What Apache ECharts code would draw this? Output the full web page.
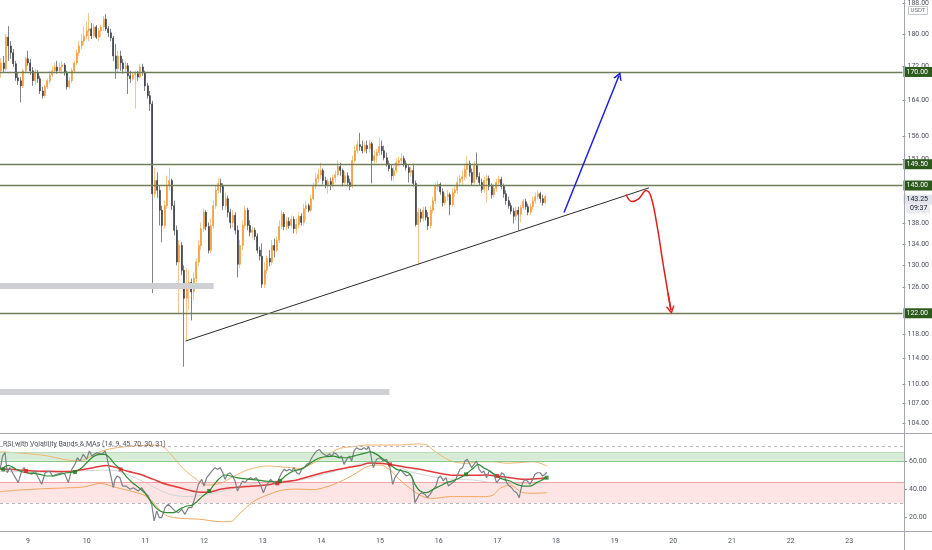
<!DOCTYPE html>
<html><head><meta charset="utf-8">
<script src="https://cdn.jsdelivr.net/npm/echarts@6/dist/echarts.min.js"></script>
<style>html,body{margin:0;padding:0;background:#fff}#c{width:932px;height:550px}</style>
</head><body><div id="c"></div>
<script>
// ---------- data ----------
const days = [9,10,11,12,13,14,15,16,17,18,19,20,21,22,23];
const firstHour = -11;            // hours relative to day 9 00:00
const timeRange = [-11.46, 358.4];
const priceRange = [102.65, 188.65];
const rsiRange = [10.4, 79.0];

const opens = [171.0,172.9,171.5,179.3,177.1,175.4,172.7,169.3,168.6,167.4,171.0,
173.9,172.9,171.0,168.6,170.5,169.1,166.2,165.1,167.2,168.6,
170.0,171.0,171.9,171.0,171.9,172.4,170.5,167.2,168.6,171.0,
172.9,175.4,177.1,178.3,179.6,180.9,181.4,179.6,181.9,179.3,
180.9,181.9,183.9,181.4,180.4,179.1,174.6,171.5,174.6,172.9,
171.5,172.2,169.8,169.1,170.0,170.3,169.5,171.9,170.5,167.4,
165.1,163.2,143.8,146.5,144.5,140.5,137.5,141.4,145.5,146.5,
141.4,136.6,130.6,133.7,129.1,124.1,125.9,126.9,125.2,127.6,
130.6,133.7,136.9,140.1,137.3,132.8,137.5,141.4,144.5,145.9,
145.3,141.4,142.8,140.1,138.1,139.5,136.6,130.2,133.7,137.5,
140.5,137.5,136.2,136.6,135.4,132.8,131.7,126.6,129.1,131.3,
130.6,133.7,132.8,134.7,137.3,139.7,137.3,138.3,137.5,138.7,
136.9,137.7,139.3,138.1,140.8,141.4,140.5,142.8,145.3,146.9,
147.7,148.6,146.5,145.5,146.3,145.7,147.1,147.7,149.4,148.6,
146.1,147.5,146.1,145.3,150.7,152.8,154.1,153.7,152.8,153.9,
153.2,154.3,150.7,151.7,152.4,153.7,152.8,151.3,150.0,149.0,
147.5,148.6,150.2,150.7,151.1,150.0,149.2,148.2,148.6,145.9,
137.7,140.1,138.9,140.5,139.1,137.5,140.5,142.4,145.3,145.7,
144.2,142.0,143.2,143.6,141.6,144.0,144.5,146.1,146.9,147.3,
148.8,150.0,148.2,146.1,149.6,147.3,146.1,144.7,146.5,146.9,
145.3,143.6,144.9,146.1,146.7,145.3,143.8,142.4,141.4,140.3,
139.3,140.5,139.7,141.0,142.2,141.2,140.1,141.2,142.4,143.2,
143.8,142.8,142.0];
const closes = [172.9,171.5,179.3,177.1,175.4,172.7,169.3,168.6,167.4,171.0,173.9,
172.9,171.0,168.6,170.5,169.1,166.2,165.1,167.2,168.6,170.0,
171.0,171.9,171.0,171.9,172.4,170.5,167.2,168.6,171.0,172.9,
175.4,177.1,178.3,179.6,180.9,181.4,179.6,181.9,179.3,180.9,
181.9,183.9,181.4,180.4,179.1,174.6,171.5,174.6,172.9,171.5,
172.2,169.8,169.1,170.0,170.3,169.5,171.9,170.5,167.4,165.1,
163.2,143.8,146.5,144.5,140.5,137.5,141.4,145.5,146.5,141.4,
136.6,130.6,133.7,129.1,124.1,125.9,126.9,125.2,127.6,130.6,
133.7,136.9,140.1,137.3,132.8,137.5,141.4,144.5,145.9,145.3,
141.4,142.8,140.1,138.1,139.5,136.6,130.2,133.7,137.5,140.5,
137.5,136.2,136.6,135.4,132.8,131.7,126.6,129.1,131.3,130.6,
133.7,132.8,134.7,137.3,139.7,137.3,138.3,137.5,138.7,136.9,
137.7,139.3,138.1,140.8,141.4,140.5,142.8,145.3,146.9,147.7,
148.6,146.5,145.5,146.3,145.7,147.1,147.7,149.4,148.6,146.1,
147.5,146.1,145.3,150.7,152.8,154.1,153.7,152.8,153.9,153.2,
154.3,150.7,151.7,152.4,153.7,152.8,151.3,150.0,149.0,147.5,
148.6,150.2,150.7,151.1,150.0,149.2,148.2,148.6,145.9,137.7,
140.1,138.9,140.5,139.1,137.5,140.5,142.4,145.3,145.7,144.2,
142.0,143.2,143.6,141.6,144.0,144.5,146.1,146.9,147.3,148.8,
150.0,148.2,146.1,149.6,147.3,146.1,144.7,146.5,146.9,145.3,
143.6,144.9,146.1,146.7,145.3,143.8,142.4,141.4,140.3,139.3,
140.5,139.7,141.0,142.2,141.2,140.1,141.2,142.4,143.2,143.8,
142.8,142.0,143.25];
const highs = [174.1,174.6,180.1,182.1,178.3,176.3,173.4,170.5,169.5,171.5,174.4,
175.9,173.9,171.9,171.5,171.2,169.8,167.2,167.6,169.1,171.0,
172.2,172.9,173.4,172.9,173.4,172.9,171.0,169.5,171.7,173.4,
176.3,178.3,180.1,182.1,183.4,185.5,182.9,182.7,182.4,181.6,
182.4,184.7,185.2,182.1,181.4,179.6,177.6,175.9,175.9,173.9,
173.4,172.9,171.0,170.7,171.0,171.0,172.7,172.7,171.0,168.1,
166.2,163.9,149.2,148.2,145.5,141.4,142.4,147.5,149.2,146.9,
142.4,137.5,134.7,134.3,130.0,129.5,129.1,127.6,128.7,131.3,
134.7,138.1,140.8,140.5,138.1,138.9,142.4,145.5,146.9,146.9,
145.9,144.0,143.4,140.8,140.5,140.1,137.5,134.7,138.5,141.4,
141.0,138.5,137.3,137.1,136.0,133.5,134.1,130.6,131.8,132.8,
134.7,135.0,135.4,138.5,140.5,140.1,139.1,139.1,139.5,139.3,
138.9,140.1,139.9,141.8,142.4,141.8,143.6,146.1,148.2,149.0,
150.2,149.0,147.3,146.9,147.1,147.7,148.6,150.7,150.2,149.0,
148.4,148.2,146.9,151.7,153.9,155.0,156.7,155.0,154.7,155.0,
155.2,154.7,152.8,153.2,155.6,155.0,153.9,152.4,150.7,149.8,
149.4,151.1,151.5,152.2,151.7,150.7,149.8,149.4,150.0,146.5,
141.0,140.8,141.2,141.2,140.1,141.4,143.2,146.1,146.5,146.1,
144.9,144.0,144.5,144.0,144.9,145.3,147.3,147.7,148.6,150.0,
151.7,150.7,149.0,150.5,152.4,148.2,146.9,147.3,147.7,147.5,
145.9,145.7,146.9,147.5,147.3,145.9,144.5,143.2,142.0,141.0,
141.2,141.2,141.6,142.8,142.8,141.8,141.8,143.2,144.0,144.5,
144.2,143.6,143.6];
const lows = [169.3,170.5,171.0,173.4,173.9,171.9,168.6,167.6,163.5,166.9,170.3,
172.2,170.0,167.4,167.6,168.1,165.5,164.4,164.6,166.7,167.9,
169.5,170.5,170.3,170.5,170.3,169.8,166.5,166.7,168.1,170.5,
172.4,174.6,176.3,177.3,178.8,178.3,178.8,179.1,178.8,178.3,
179.3,180.9,180.9,179.3,178.3,173.4,169.1,170.5,171.0,170.3,
170.5,165.5,168.1,168.6,162.1,168.6,169.1,169.8,166.2,164.4,
161.6,125.0,143.0,143.0,137.5,134.3,136.9,140.8,144.5,140.5,
135.6,130.0,121.5,128.2,112.7,117.0,122.0,120.3,123.8,126.9,
129.8,132.8,136.2,136.6,132.2,132.2,136.9,140.8,143.8,144.0,
140.5,140.5,139.1,136.9,137.1,135.8,127.8,129.5,132.8,136.9,
136.6,135.4,135.0,134.7,132.2,130.9,125.9,125.9,128.4,129.8,
130.0,131.5,132.4,134.1,136.8,136.6,136.6,136.9,136.9,136.0,
135.8,136.9,137.5,137.5,138.5,140.1,140.1,142.4,144.7,146.1,
146.9,145.7,144.9,143.8,144.5,145.1,146.1,147.3,147.5,145.3,
145.7,145.3,144.5,144.9,150.2,152.2,152.8,152.2,152.4,152.2,
152.4,145.9,149.8,150.2,151.7,151.9,150.7,149.4,148.4,146.5,
146.5,148.0,149.4,149.8,149.4,148.6,146.1,147.3,145.3,137.3,
130.0,138.1,138.3,138.5,136.6,136.9,139.9,141.8,144.5,143.6,
141.2,141.4,142.4,139.5,141.2,143.2,143.8,145.5,145.5,146.5,
146.9,147.3,145.5,145.7,146.7,145.5,144.0,144.0,142.0,144.5,
142.8,143.0,144.2,145.3,144.7,143.0,141.6,140.8,139.7,137.9,
138.5,136.6,138.1,140.5,140.6,139.5,139.5,140.6,141.8,142.6,
142.0,141.4,141.6];

const priceTicks = [188,180,172,164,156,151,138,134,130,126,118,114,110,107,104];
const levels = [170, 149.5, 145, 122];
const lastPrice = 143.25;
const countdown = '09:37';
const quoteCurrency = 'USDT';

// drawings: [hour, price]
const trendLine = [[64.6,116.85],[254.5,145.0]];
const upArrow = [[219.7,140.05],[242.2,169.8]];
const downPath = [[245.1,143.64],[247.5,142.23],[250.4,142.83],[253.3,144.45],[255.3,143.24],[257.8,137.52],[260.2,130.55],[262.3,124.99],[263.5,122.04]];
const grayZones = [{price:126.3, from:-11.46, to:76.1},{price:108.8, from:-11.46, to:148.1}];

// RSI pane: [hour, value]
const rsiTitle = 'RSI with Volatility Bands & MAs (14, 9, 45, 70, 30, 31)';
const rsiTicks = [20,40,60];
const rsiLevels = {overbought:70, oversold:30, upperZone:[60,66], lowerZone:[30,45]};
const rsiLine = [[-11.4,54.0],[-10.4,63.4],[-9.4,65.8],[-8.5,51.6],[-7.4,55.2],[-6.0,50.5],[-4.0,44.6],[-2.6,52.8],[-1.6,55.2],[-0.5,51.6],[1.5,50.5],[2.9,52.8],[4.2,48.1],[5.6,43.4],[7.0,51.6],[8.7,52.8],[10.1,49.3],[11.7,50.5],[13.8,51.6],[15.1,50.5],[16.5,44.6],[17.9,54.0],[19.2,57.5],[20.2,62.2],[21.3,59.9],[22.6,64.6],[24.0,61.1],[25.1,67.0],[26.1,63.4],[28.1,65.8],[30.2,64.6],[31.5,67.0],[32.2,63.4],[33.6,51.6],[34.9,41.0],[35.6,46.9],[36.5,49.3],[37.6,48.1],[38.7,42.2],[40.1,42.2],[41.7,39.9],[43.1,41.0],[45.1,38.7],[46.5,41.0],[47.9,37.5],[49.2,35.2],[50.6,29.3],[51.6,17.5],[52.7,24.6],[53.7,19.9],[54.7,19.9],[56.1,26.9],[57.4,29.3],[58.8,26.9],[60.1,24.6],[61.5,23.4],[62.9,25.7],[64.2,22.2],[65.6,26.9],[67.0,26.9],[68.3,34.0],[69.7,43.4],[71.1,46.9],[72.0,42.2],[73.1,48.1],[74.2,50.5],[75.2,52.8],[76.5,55.2],[77.5,54.0],[78.6,55.2],[79.7,51.6],[80.6,46.9],[81.6,50.5],[82.7,51.6],[83.7,49.3],[84.7,45.8],[85.7,38.7],[86.7,42.2],[87.8,45.8],[88.8,44.6],[89.9,46.9],[91.1,48.1],[92.2,46.9],[93.3,48.1],[94.3,45.8],[95.3,42.2],[96.3,37.5],[97.4,42.2],[98.3,44.6],[99.3,46.9],[100.4,44.6],[101.8,43.4],[102.8,48.1],[103.8,51.6],[104.8,54.0],[105.8,52.8],[106.9,54.0],[107.9,52.8],[108.8,55.2],[109.9,51.6],[111.0,50.5],[112.0,54.0],[113.1,55.2],[114.0,57.5],[115.1,58.7],[116.1,62.2],[117.0,64.6],[118.1,67.0],[119.2,68.1],[120.2,65.8],[121.1,64.6],[122.2,63.4],[123.3,64.6],[124.3,63.4],[125.2,65.8],[126.3,64.6],[127.4,62.2],[128.3,63.4],[129.3,57.5],[130.4,61.1],[131.5,63.4],[132.4,59.9],[133.4,67.0],[134.5,69.3],[135.6,68.1],[136.5,68.1],[137.5,69.3],[138.6,68.1],[139.4,70.0],[140.1,66.0],[140.9,58.0],[141.3,55.2],[142.6,61.1],[144.0,62.2],[145.4,59.9],[146.7,61.1],[148.1,55.2],[149.2,43.4],[150.1,48.1],[151.5,51.6],[152.4,54.0],[153.5,51.6],[154.9,49.3],[156.3,50.5],[157.4,46.9],[158.3,30.4],[159.0,31.6],[160.1,36.3],[161.0,37.5],[162.4,36.3],[163.4,34.0],[164.5,36.3],[165.8,39.9],[166.9,42.2],[167.9,48.1],[168.8,49.3],[169.9,45.8],[171.0,48.1],[172.0,42.2],[172.6,43.4],[173.7,44.6],[174.7,45.8],[175.6,49.3],[176.7,54.0],[177.8,55.2],[178.8,59.9],[179.7,61.1],[180.8,57.5],[181.5,55.2],[182.5,57.5],[183.5,59.9],[184.6,54.0],[185.6,51.6],[186.5,52.8],[187.6,48.1],[188.7,52.8],[189.7,51.6],[190.6,50.5],[191.7,44.6],[192.8,46.9],[193.8,51.6],[194.7,50.5],[195.8,44.6],[196.9,42.2],[197.9,41.0],[198.8,38.7],[199.9,37.5],[201.0,34.0],[201.5,38.7],[202.4,44.6],[203.3,46.9],[204.3,45.8],[205.4,43.4],[206.5,46.9],[207.4,50.5],[208.4,51.6],[209.5,51.6],[210.6,49.3],[211.5,50.5],[212.2,52.1]];
const rsiFastMA = [[-11.4,54.0],[-10.1,55.2],[-8.0,56.8],[-6.0,55.2],[-3.3,52.8],[-0.55,51.6],[2.2,51.2],[4.9,50.5],[7.6,49.3],[10.4,49.3],[13.1,50.5],[15.8,51.6],[19.2,52.4],[22.0,55.2],[24.0,58.7],[26.7,63.0],[29.5,64.6],[31.5,64.6],[32.9,63.0],[34.2,60.5],[35.6,57.5],[37.9,54.0],[40.4,48.5],[43.1,44.0],[45.8,40.5],[47.9,37.0],[49.9,32.0],[52.0,27.5],[54.0,24.6],[56.7,23.4],[59.5,23.4],[62.2,26.0],[64.9,28.1],[67.0,28.5],[69.0,31.0],[71.1,34.5],[74.1,38.7],[76.0,43.0],[78.0,47.0],[80.5,50.0],[82.7,49.3],[85.4,48.1],[88.1,47.4],[90.8,46.9],[93.6,46.5],[96.3,45.8],[99.0,45.5],[101.8,45.2],[103.1,46.0],[105.8,50.0],[108.6,52.8],[111.3,54.0],[114.0,56.4],[116.8,59.9],[119.5,62.2],[122.2,63.0],[124.9,63.4],[127.7,62.2],[130.4,62.2],[133.1,63.4],[135.9,64.6],[138.6,65.8],[139.9,66.3],[142.6,64.6],[145.4,61.1],[148.1,57.5],[150.8,54.0],[153.5,52.8],[155.6,51.6],[156.9,49.3],[158.3,43.4],[160.4,38.7],[163.1,37.5],[165.8,39.9],[168.5,42.2],[171.3,44.6],[174.0,46.0],[176.7,48.0],[179.2,50.5],[182.2,55.0],[184.2,57.5],[186.3,55.2],[189.0,52.8],[191.7,49.3],[194.5,46.9],[197.2,45.8],[199.9,43.4],[202.6,42.2],[205.4,42.2],[208.1,44.6],[210.8,46.9],[212.2,48.1]];
const rsiSlowMA = [[-11.4,54.0],[-7.4,54.0],[-1.9,53.3],[2.2,52.8],[9.0,52.6],[15.8,52.4],[21.3,53.6],[26.7,55.2],[32.2,56.8],[36.3,55.2],[40.4,52.8],[45.8,50.5],[51.3,46.9],[56.7,43.4],[62.2,41.0],[66.3,39.0],[70.4,37.8],[74.5,38.0],[78.6,39.9],[82.7,41.0],[89.5,41.8],[96.3,42.7],[103.1,44.6],[109.9,46.5],[116.8,49.8],[123.6,52.8],[130.4,55.2],[135.9,56.8],[139.9,58.5],[144.0,58.3],[148.1,57.5],[153.5,55.9],[160.4,54.0],[167.2,51.6],[174.0,49.8],[180.8,49.8],[187.6,50.0],[191.7,49.3],[197.2,48.1],[202.6,47.0],[208.1,47.4],[212.2,48.1]];
const bandUpper = [[-11.4,66.5],[6.1,64.0],[16.0,60.6],[21.3,60.1],[25.4,63.0],[29.5,66.5],[34.8,68.9],[43.0,70.5],[51.1,71.2],[55.2,70.0],[59.3,62.9],[63.4,54.7],[67.5,48.8],[73.2,42.9],[78.6,44.1],[83.9,48.8],[89.6,53.5],[97.8,56.4],[106.0,55.4],[111.3,54.7],[116.6,58.3],[122.3,64.1],[127.7,68.9],[133.0,70.0],[138.7,71.2],[146.9,71.2],[152.2,71.2],[159.2,71.9],[163.3,71.2],[165.7,67.7],[169.8,62.9],[173.9,59.4],[179.6,58.3],[184.9,59.4],[190.3,59.4],[196.0,58.3],[201.3,58.8],[206.6,59.4],[209.5,58.3],[212.4,56.4]];
const bandLower = [[-11.4,38.2],[-3.3,39.4],[9.0,40.5],[22.5,41.5],[29.5,44.1],[36.4,41.0],[43.0,38.2],[48.7,34.7],[54.0,25.3],[56.9,21.1],[62.2,19.4],[70.4,18.7],[78.6,17.0],[82.7,17.0],[86.7,22.9],[92.1,31.1],[97.8,35.8],[104.3,39.4],[111.3,40.0],[116.6,39.6],[122.3,41.7],[127.7,45.3],[133.0,50.0],[138.7,55.9],[144.0,57.1],[148.1,53.5],[152.2,46.5],[156.3,40.6],[161.6,34.7],[165.7,33.5],[172.7,34.7],[179.6,34.7],[186.2,34.7],[190.3,35.8],[193.1,40.6],[197.2,42.9],[202.5,37.5],[206.6,37.1],[212.4,37.5]];
const bandBasis = [[-11.4,52.5],[10.0,52.0],[22.0,53.0],[33.6,53.5],[45.8,46.5],[56.9,37.0],[65.1,34.7],[75.8,37.0],[86.7,41.8],[97.8,45.3],[111.3,46.5],[124.8,52.4],[138.7,58.2],[146.9,58.2],[156.3,52.4],[165.7,48.8],[173.9,46.9],[182.1,46.5],[193.1,44.1],[204.2,44.1],[212.4,44.6]];
const crossUp = [[-10.1,54.0],[19.2,52.1],[74.1,38.7],[103.1,45.8],[179.2,50.5],[212.2,48.1]];
const crossDown = [[-0.8,52.8],[37.9,54.0],[102.0,44.1],[148.1,57.5],[192.0,49.3]];

// ---------- chart ----------
const LN = Math.log;
const hours = opens.map((_, i) => firstHour + i);
const wickData = hours.map((t, i) => [t, LN(opens[i]), LN(closes[i]), LN(lows[i]), LN(highs[i])]);
const bodyData = hours.map((t, i) => [t, LN(opens[i]), LN(closes[i]),
  LN(Math.min(opens[i], closes[i])), LN(Math.max(opens[i], closes[i]))]);
const toLn = arr => arr.map(p => [p[0], LN(p[1])]);

const FONT = 'Roboto';
const axisTxt = '#50535e';
const chevron = 'path://M0,10L5,0L10,10L8.2,10L5,3.8L1.8,10Z';
const tagLabel = (bg, fg) => ({show: true, position: 'end', formatter: '{b}', distance: 1,
  backgroundColor: bg, color: fg, fontSize: 7, fontFamily: FONT, padding: [2, 4, 1, 3]});

const chart = echarts.init(document.getElementById('c'), null, {renderer: 'canvas'});
const option = {
  animation: false,
  textStyle: {fontFamily: FONT},
  grid: [
    {left: 0, right: 28, top: 0, height: 433},
    {left: 0, right: 28, top: 434, height: 97}
  ],
  xAxis: [
    {type: 'value', gridIndex: 0, min: timeRange[0], max: timeRange[1], show: false},
    {type: 'value', gridIndex: 1, min: timeRange[0], max: timeRange[1],
      axisLine: {show: false, onZero: false}, axisTick: {show: false}, splitLine: {show: false},
      axisLabel: {customValues: days.map(d => (d - days[0]) * 24),
        formatter: v => String(days[0] + Math.round(v / 24)),
        color: axisTxt, fontSize: 7, margin: 7, fontFamily: FONT}}
  ],
  yAxis: [
    {type: 'value', gridIndex: 0, position: 'right', min: LN(priceRange[0]), max: LN(priceRange[1]),
      axisLine: {show: false, onZero: false}, splitLine: {show: false},
      axisTick: {show: true, length: 3, customValues: priceTicks.map(LN), lineStyle: {color: '#8f929a'}},
      axisLabel: {customValues: priceTicks.map(LN), formatter: v => Math.exp(v).toFixed(2),
        color: axisTxt, fontSize: 7, margin: 5, fontFamily: FONT}},
    {type: 'value', gridIndex: 1, position: 'right', min: rsiRange[0], max: rsiRange[1],
      axisLine: {show: false, onZero: false}, splitLine: {show: false},
      axisTick: {show: true, length: 3, customValues: rsiTicks, lineStyle: {color: '#8f929a'}},
      axisLabel: {customValues: rsiTicks, formatter: v => v.toFixed(2),
        color: axisTxt, fontSize: 7, margin: 5, fontFamily: FONT}}
  ],
  series: [
    {type: 'candlestick', name: 'wicks', xAxisIndex: 0, yAxisIndex: 0, data: wickData,
      encode: {x: 0, y: [1, 2, 3, 4]}, barWidth: 0.8, z: 2, silent: true,
      itemStyle: {color: '#f6c58e', color0: '#80838b', borderColor: '#f6c58e', borderColor0: '#80838b', borderWidth: 1}},
    {type: 'candlestick', name: 'bodies', xAxisIndex: 0, yAxisIndex: 0, data: bodyData,
      encode: {x: 0, y: [1, 2, 3, 4]}, barWidth: 1.5, z: 3, silent: true,
      itemStyle: {color: '#f39a34', color0: '#3a3d47', borderColor: '#f39a34', borderColor0: '#3a3d47', borderWidth: 0.6}},
    {type: 'line', name: 'trend', xAxisIndex: 0, yAxisIndex: 0, data: toLn(trendLine),
      symbol: 'none', clip: false, silent: true, z: 6,
      lineStyle: {color: '#2a2a2a', width: 1},
      markLine: {silent: true, symbol: 'none', z: 10, animation: false,
        data: [
          ...levels.map(v => ({yAxis: LN(v), name: v.toFixed(2),
            lineStyle: {color: '#6f7e56', width: 1.3, type: 'solid'},
            label: tagLabel('#2b5a1c', '#ffffff')})),
          {yAxis: LN(lastPrice), name: lastPrice.toFixed(2),
            lineStyle: {color: 'rgba(255,255,255,0)', width: 0.1, type: 'solid'},
            label: tagLabel('#e1e3ea', '#131722')},
          ...grayZones.map(z => [
            {coord: [z.from, LN(z.price)], lineStyle: {color: '#cfd0d3', width: 6, type: 'solid'}, label: {show: false}},
            {coord: [z.to, LN(z.price)]}
          ]),
          [
            {coord: [upArrow[0][0], LN(upArrow[0][1])], symbol: 'none',
              lineStyle: {color: '#1f1fe0', width: 1.5, type: 'solid'}, label: {show: false}},
            {coord: [upArrow[1][0], LN(upArrow[1][1])], symbol: chevron, symbolSize: [9, 8]}
          ],
          [
            {coord: [downPath[downPath.length - 2][0], LN(downPath[downPath.length - 2][1])], symbol: 'none',
              lineStyle: {color: '#e01f1f', width: 1.5, type: 'solid'}, label: {show: false}},
            {coord: [downPath[downPath.length - 1][0], LN(downPath[downPath.length - 1][1])], symbol: chevron, symbolSize: [9, 8]}
          ]
        ]}},
    {type: 'line', name: 'down path', xAxisIndex: 0, yAxisIndex: 0, data: toLn(downPath),
      symbol: 'none', smooth: 0.4, clip: false, silent: true, z: 6,
      lineStyle: {color: '#e01f1f', width: 1.5}},

    // RSI pane
    {type: 'line', name: 'basis', xAxisIndex: 1, yAxisIndex: 1, data: bandBasis, symbol: 'none', smooth: 0.3,
      silent: true, z: 3, lineStyle: {color: '#d3d4d8', width: 1},
      markArea: {silent: true, data: [
        [{yAxis: rsiLevels.upperZone[0], itemStyle: {color: 'rgba(110,185,110,0.28)'}}, {yAxis: rsiLevels.upperZone[1]}],
        [{yAxis: rsiLevels.lowerZone[0], itemStyle: {color: 'rgba(242,70,70,0.14)'}}, {yAxis: rsiLevels.lowerZone[1]}]
      ]},
      markLine: {silent: true, symbol: 'none', label: {show: false}, data: [
        {yAxis: rsiLevels.overbought, lineStyle: {color: '#b5b8bf', width: 1, type: [3, 3]}},
        {yAxis: rsiLevels.oversold, lineStyle: {color: '#b5b8bf', width: 1, type: [3, 3]}},
        {yAxis: rsiLevels.upperZone[0], lineStyle: {color: '#86c786', width: 1, type: 'solid'}},
        {yAxis: rsiLevels.upperZone[1], lineStyle: {color: '#b9deb7', width: 1, type: 'solid'}},
        {yAxis: rsiLevels.lowerZone[1], lineStyle: {color: '#f3a3a3', width: 1, type: 'solid'}}
      ]}},
    {type: 'line', name: 'upper band', xAxisIndex: 1, yAxisIndex: 1, data: bandUpper, symbol: 'none', smooth: 0.3,
      silent: true, z: 4, lineStyle: {color: '#f2b46e', width: 1}},
    {type: 'line', name: 'lower band', xAxisIndex: 1, yAxisIndex: 1, data: bandLower, symbol: 'none', smooth: 0.3,
      silent: true, z: 4, lineStyle: {color: '#f2a65e', width: 1}},
    {type: 'line', name: 'slow MA', xAxisIndex: 1, yAxisIndex: 1, data: rsiSlowMA, symbol: 'none', smooth: 0.3,
      silent: true, z: 5, lineStyle: {color: '#e23a3a', width: 1.5}},
    {type: 'line', name: 'RSI', xAxisIndex: 1, yAxisIndex: 1, data: rsiLine, symbol: 'none',
      silent: true, z: 6, lineStyle: {color: '#7d8086', width: 1.2}},
    {type: 'line', name: 'fast MA', xAxisIndex: 1, yAxisIndex: 1, data: rsiFastMA, symbol: 'none', smooth: 0.3,
      silent: true, z: 7, lineStyle: {color: '#2f8c35', width: 1.2}},
    {type: 'scatter', name: 'cross up', xAxisIndex: 1, yAxisIndex: 1, data: crossUp, symbol: 'rect', symbolSize: 4,
      silent: true, z: 8, itemStyle: {color: '#1e7d22'}},
    {type: 'scatter', name: 'cross down', xAxisIndex: 1, yAxisIndex: 1, data: crossDown, symbol: 'rect', symbolSize: 4,
      silent: true, z: 8, itemStyle: {color: '#d32626'}}
  ],
  graphic: [
    {type: 'line', shape: {x1: 0, y1: 433.5, x2: 932, y2: 433.5}, style: {stroke: '#a3a6ad', lineWidth: 1}, silent: true, z: 20},
    {type: 'line', shape: {x1: 0, y1: 531.5, x2: 932, y2: 531.5}, style: {stroke: '#a3a6ad', lineWidth: 1}, silent: true, z: 20},
    {type: 'line', shape: {x1: 904.5, y1: 0, x2: 904.5, y2: 550}, style: {stroke: '#a3a6ad', lineWidth: 1}, silent: true, z: 20},
    {type: 'text', x: 3, y: 441, style: {text: rsiTitle, fill: '#50535e', font: '7px ' + FONT}, silent: true, z: 20},
    {type: 'rect', shape: {x: 908.5, y: 6.5, width: 19, height: 8}, style: {fill: '#fff', stroke: '#c3c5cb', lineWidth: 1}, silent: true, z: 21},
    {type: 'text', x: 910.5, y: 7.5, style: {text: quoteCurrency, fill: '#6a6d78', font: '6px ' + FONT}, silent: true, z: 22}
  ]
};
chart.setOption(option);
// countdown box under the last-price tag
const yLast = chart.convertToPixel({yAxisIndex: 0}, LN(lastPrice));
chart.setOption({graphic: option.graphic.concat([
  {type: 'rect', shape: {x: 906, y: yLast + 7, width: 24, height: 10}, style: {fill: '#e9ebf0'}, silent: true, z: 21},
  {type: 'text', x: 910, y: yLast + 8.5, style: {text: countdown, fill: '#131722', font: '7px ' + FONT}, silent: true, z: 22}
])});
</script>
</body></html>
